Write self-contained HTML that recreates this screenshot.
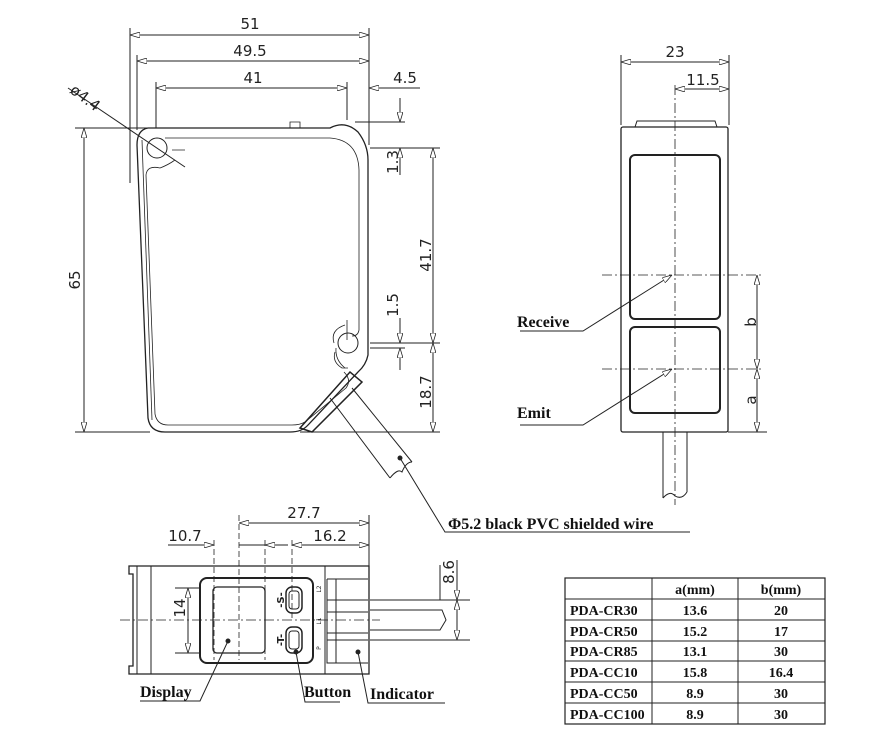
<!DOCTYPE html>
<html><head><meta charset="utf-8"><style>
body{margin:0;background:#fff}
svg{display:block}
.d{font-family:"DejaVu Sans","Liberation Sans",sans-serif;font-size:15px;fill:#222}
.s{font-family:"Liberation Serif",serif;font-weight:bold;font-size:16px;fill:#111}
.t{font-family:"Liberation Serif",serif;font-weight:bold;font-size:14px;fill:#111}
</style></head><body>
<svg width="893" height="755" viewBox="0 0 893 755" xmlns="http://www.w3.org/2000/svg">
<defs>
<marker id="a" viewBox="0 0 10 6" refX="10" refY="3" markerWidth="10" markerHeight="6" orient="auto-start-reverse" markerUnits="userSpaceOnUse"><path d="M0,0L10,3L0,6z" fill="#fff" stroke="#222" stroke-width="0.8"/></marker>
</defs>
<g fill="none" stroke="#222" stroke-width="1">
<line x1="130" y1="28" x2="130" y2="183"/><line x1="137" y1="55" x2="137" y2="130"/>
<line x1="156" y1="82" x2="156" y2="128"/><line x1="347" y1="82" x2="347" y2="120"/>
<line x1="369" y1="28" x2="369" y2="145"/>
<line x1="130" y1="35" x2="369" y2="35" marker-start="url(#a)" marker-end="url(#a)"/>
<line x1="137" y1="61" x2="369" y2="61" marker-start="url(#a)" marker-end="url(#a)"/>
<line x1="156" y1="88" x2="347" y2="88" marker-start="url(#a)" marker-end="url(#a)"/>
<line x1="369" y1="88" x2="420" y2="88"/><line x1="392" y1="88" x2="369" y2="88" marker-end="url(#a)"/>
<line x1="68" y1="88" x2="185" y2="167"/>
<line x1="75" y1="128" x2="150" y2="128"/><line x1="75" y1="432" x2="150" y2="432"/>
<line x1="84" y1="128" x2="84" y2="432" marker-start="url(#a)" marker-end="url(#a)"/>
<line x1="355" y1="122" x2="405" y2="122"/><line x1="370" y1="148" x2="440" y2="148"/>
<line x1="400" y1="98" x2="400" y2="122" marker-end="url(#a)"/><line x1="400" y1="175" x2="400" y2="148" marker-end="url(#a)"/>
<line x1="433" y1="148" x2="433" y2="343" marker-start="url(#a)" marker-end="url(#a)"/>
<line x1="433" y1="343" x2="433" y2="432" marker-start="url(#a)" marker-end="url(#a)"/>
<line x1="370" y1="343" x2="440" y2="343"/><line x1="370" y1="348" x2="405" y2="348"/>
<line x1="400" y1="318" x2="400" y2="343" marker-end="url(#a)"/><line x1="400" y1="370" x2="400" y2="348" marker-end="url(#a)"/>
<line x1="300" y1="432" x2="440" y2="432"/>
<path d="M148,128 L330,128 Q345,120 358,132 Q368,145 368,160 L368,355 Q366,365 358,372 L308,425 Q302,432 290,432 L165,432 Q150,432 148,418 L137,145 Q137,130 148,128 Z" stroke-width="1.3"/>
<path d="M142,140 L152,420" stroke-width="0.8"/>
<path d="M165,138 L330,138 Q358,140 359,170 L359,330 Q358,336 352,336 M347,340 L347,320 M335,352 Q332,362 342,368 L348,368 M344,372 Q352,380 346,388 L305,422 Q300,425 292,425 L168,425 Q157,425 155,414 L146,175 Q147,165 160,168 Q168,165 175,160 M185,150 L172,150" stroke-width="0.8"/>
<circle cx="157" cy="148" r="10"/><circle cx="348" cy="343" r="10"/>
<path d="M334,343 Q330,330 345,325 M336,348 Q335,360 345,368" stroke-width="0.8"/>
<path d="M290,122 L300,122 L300,128 L290,128Z" stroke-width="0.8"/>
<path d="M300,428 L350,372 L362,382 L312,432Z" stroke-width="1.5"/>
<path d="M330,398 L390,478 M352,388 L412,462"/>
<path d="M390,478 Q398,468 402,472 Q406,462 412,462"/>
<path d="M400,458 L445,532 L690,532"/>
<circle cx="400" cy="458" r="2" fill="#222"/>
<line x1="621" y1="55" x2="621" y2="125"/><line x1="729" y1="55" x2="729" y2="125"/>
<line x1="621" y1="62" x2="729" y2="62" marker-start="url(#a)" marker-end="url(#a)"/>
<line x1="675" y1="89" x2="729" y2="89" marker-start="url(#a)" marker-end="url(#a)"/>
<rect x="621" y="127" width="107" height="305" rx="2" stroke-width="1.3"/>
<path d="M635,127 L637,121 L715,121 L717,127" />
<rect x="630" y="155" width="90" height="164" rx="5" stroke-width="2"/>
<rect x="630" y="327" width="90" height="86" rx="5" stroke-width="2"/>
<line x1="675" y1="85" x2="675" y2="505" stroke-dasharray="10,3,2,3" stroke-width="0.8"/>
<line x1="602" y1="275" x2="762" y2="275" stroke-dasharray="10,3,2,3" stroke-width="0.8"/>
<line x1="602" y1="369" x2="762" y2="369" stroke-dasharray="10,3,2,3" stroke-width="0.8"/>
<line x1="728" y1="432" x2="767" y2="432"/>
<line x1="757" y1="275" x2="757" y2="369" marker-start="url(#a)" marker-end="url(#a)"/>
<line x1="757" y1="369" x2="757" y2="432" marker-start="url(#a)" marker-end="url(#a)"/>
<path d="M520,331 L583,331 L672,275" marker-end="url(#a)"/>
<path d="M520,425 L583,425 L672,369" marker-end="url(#a)"/>
<path d="M663,432 L663,498 M687,432 L687,492 M663,498 Q670,490 675,496 Q682,500 687,492"/>
<line x1="239" y1="515" x2="239" y2="660" stroke-dasharray="6,3" stroke-width="0.8"/>
<line x1="214" y1="540" x2="214" y2="660" stroke-dasharray="6,3" stroke-width="0.8"/>
<line x1="265" y1="540" x2="265" y2="660" stroke-dasharray="6,3" stroke-width="0.8"/>
<line x1="292" y1="540" x2="292" y2="620" stroke-dasharray="6,3" stroke-width="0.8"/>
<line x1="369" y1="515" x2="369" y2="566"/>
<line x1="239" y1="523" x2="369" y2="523" marker-start="url(#a)" marker-end="url(#a)"/>
<line x1="168" y1="545" x2="214" y2="545"/><line x1="194" y1="545" x2="214" y2="545" marker-end="url(#a)"/>
<line x1="288" y1="545" x2="265" y2="545" marker-end="url(#a)"/><line x1="239" y1="545" x2="265" y2="545"/>
<line x1="292" y1="545" x2="369" y2="545" marker-start="url(#a)" marker-end="url(#a)"/>
<path d="M129,566 L369,566 L369,674 L129,674 L129,666 L133,666 L133,574 L129,574 Z" stroke-width="1.3"/>
<line x1="137" y1="566" x2="137" y2="674"/><line x1="151" y1="566" x2="151" y2="674"/><line x1="325" y1="566" x2="325" y2="674"/>
<rect x="200" y="578" width="113" height="85" rx="7" stroke-width="2"/>
<rect x="213" y="587" width="52" height="66" rx="4" stroke-width="1.3"/>
<rect x="286" y="587" width="16" height="26" rx="6" stroke-width="1.5"/><rect x="289" y="591" width="10" height="18" rx="3"/>
<rect x="286" y="627" width="16" height="26" rx="6" stroke-width="1.5"/><rect x="289" y="631" width="10" height="18" rx="3"/>
<path d="M327,579 L368,579 M327,579 L327,663 L368,663 M327,600 L368,600 M327,612 L368,612 M327,633 L368,633 M327,640 L368,640 M336,579 L336,663"/>
<line x1="120" y1="620" x2="380" y2="620" stroke-dasharray="10,3,2,3" stroke-width="0.8"/>
<path d="M370,600 L470,600 M370,640 L470,640 M370,610 L442,610 L446,620 L440,630 L370,630"/>
<line x1="440" y1="565" x2="440" y2="600"/>
<line x1="457" y1="560" x2="457" y2="600" marker-end="url(#a)"/>
<line x1="457" y1="600" x2="457" y2="640" marker-start="url(#a)" marker-end="url(#a)"/>
<line x1="175" y1="588" x2="200" y2="588"/><line x1="175" y1="653" x2="200" y2="653"/>
<line x1="188" y1="588" x2="188" y2="653" marker-start="url(#a)" marker-end="url(#a)"/>
<path d="M140,701 L200,701 L228,641"/><circle cx="228" cy="641" r="2" fill="#222"/>
<path d="M340,702 L305,702 L296,652"/><circle cx="296" cy="652" r="2" fill="#222"/>
<path d="M445,703 L368,703 L358,652"/><circle cx="358" cy="652" r="2" fill="#222"/>
<rect x="565" y="578" width="260" height="146" stroke-width="1.2"/>
<line x1="652" y1="578" x2="652" y2="724"/><line x1="738" y1="578" x2="738" y2="724"/>
<line x1="565" y1="599" x2="825" y2="599"/><line x1="565" y1="620" x2="825" y2="620"/>
<line x1="565" y1="641" x2="825" y2="641"/><line x1="565" y1="661" x2="825" y2="661"/>
<line x1="565" y1="682" x2="825" y2="682"/><line x1="565" y1="703" x2="825" y2="703"/>
</g>
<text class="d" x="250" y="29" text-anchor="middle">51</text>
<text class="d" x="250" y="56" text-anchor="middle">49.5</text>
<text class="d" x="253" y="83" text-anchor="middle">41</text>
<text class="d" x="405" y="83" text-anchor="middle">4.5</text>
<text class="d" x="0" y="0" transform="translate(69,92) rotate(37)">ø4.4</text>
<text class="d" x="0" y="0" transform="translate(80,280) rotate(-90)" text-anchor="middle">65</text>
<text class="d" x="0" y="0" transform="translate(398,162) rotate(-90)" text-anchor="middle">1.3</text>
<text class="d" x="0" y="0" transform="translate(431,255) rotate(-90)" text-anchor="middle">41.7</text>
<text class="d" x="0" y="0" transform="translate(398,305) rotate(-90)" text-anchor="middle">1.5</text>
<text class="d" x="0" y="0" transform="translate(431,392) rotate(-90)" text-anchor="middle">18.7</text>
<text class="d" x="675" y="57" text-anchor="middle">23</text>
<text class="d" x="703" y="85" text-anchor="middle">11.5</text>
<text class="d" x="0" y="0" transform="translate(756,322) rotate(-90)" text-anchor="middle">b</text>
<text class="d" x="0" y="0" transform="translate(756,400) rotate(-90)" text-anchor="middle">a</text>
<text class="d" x="304" y="518" text-anchor="middle">27.7</text>
<text class="d" x="185" y="541" text-anchor="middle">10.7</text>
<text class="d" x="330" y="541" text-anchor="middle">16.2</text>
<text class="d" x="0" y="0" transform="translate(185,608) rotate(-90)" text-anchor="middle">14</text>
<text class="d" x="0" y="0" transform="translate(454,572) rotate(-90)" text-anchor="middle">8.6</text>
<text class="d" style="font-size:10px;font-weight:bold" x="0" y="0" transform="translate(284,600) rotate(-90)" text-anchor="middle">-S-</text>
<text class="d" style="font-size:10px;font-weight:bold" x="0" y="0" transform="translate(284,640) rotate(-90)" text-anchor="middle">-T-</text>
<text class="d" style="font-size:6px" x="0" y="0" transform="translate(321,589) rotate(-90)" text-anchor="middle">L2</text>
<text class="d" style="font-size:6px" x="0" y="0" transform="translate(321,621) rotate(-90)" text-anchor="middle">L1</text>
<text class="d" style="font-size:6px" x="0" y="0" transform="translate(321,648) rotate(-90)" text-anchor="middle">P</text>
<text class="s" x="448" y="529">Φ5.2 black PVC shielded wire</text>
<text class="s" x="517" y="327">Receive</text>
<text class="s" x="517" y="418">Emit</text>
<text class="s" x="140" y="697">Display</text>
<text class="s" x="304" y="697">Button</text>
<text class="s" x="370" y="699">Indicator</text>
<text class="t" x="695" y="594" text-anchor="middle">a(mm)</text>
<text class="t" x="781" y="594" text-anchor="middle">b(mm)</text>
<text class="t" x="570" y="615">PDA-CR30</text><text class="t" x="695" y="615" text-anchor="middle">13.6</text><text class="t" x="781" y="615" text-anchor="middle">20</text>
<text class="t" x="570" y="636">PDA-CR50</text><text class="t" x="695" y="636" text-anchor="middle">15.2</text><text class="t" x="781" y="636" text-anchor="middle">17</text>
<text class="t" x="570" y="656">PDA-CR85</text><text class="t" x="695" y="656" text-anchor="middle">13.1</text><text class="t" x="781" y="656" text-anchor="middle">30</text>
<text class="t" x="570" y="677">PDA-CC10</text><text class="t" x="695" y="677" text-anchor="middle">15.8</text><text class="t" x="781" y="677" text-anchor="middle">16.4</text>
<text class="t" x="570" y="698">PDA-CC50</text><text class="t" x="695" y="698" text-anchor="middle">8.9</text><text class="t" x="781" y="698" text-anchor="middle">30</text>
<text class="t" x="570" y="719">PDA-CC100</text><text class="t" x="695" y="719" text-anchor="middle">8.9</text><text class="t" x="781" y="719" text-anchor="middle">30</text>
</svg>
</body></html>
